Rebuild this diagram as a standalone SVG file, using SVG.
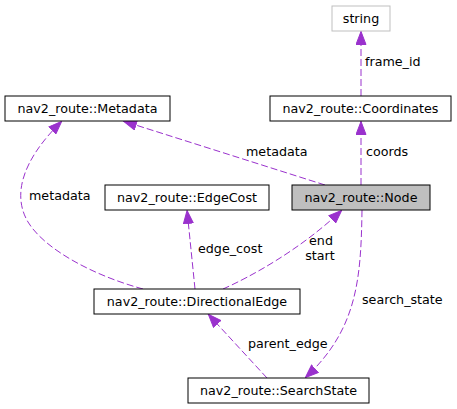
<svg xmlns="http://www.w3.org/2000/svg" width="457" height="409" viewBox="0 0 457 409">
<style>
.box{fill:#ffffff;stroke:#000000;stroke-width:1}
.t{font-family:"DejaVu Sans",sans-serif;font-size:12.7px;fill:#000000}
.c{text-anchor:middle}
.e{fill:none;stroke:#9a32cd;stroke-width:1;stroke-dasharray:7,3}
</style>
<defs>
<marker id="ah" viewBox="0 0 14 11" refX="14" refY="5.5" markerWidth="14" markerHeight="11" markerUnits="userSpaceOnUse" orient="auto">
<path d="M0.5,0.5 L13.5,5.5 L0.5,10.5 z" fill="#9a32cd" stroke="#9a32cd" stroke-width="1"/>
</marker>
</defs>
<rect width="457" height="409" fill="#ffffff"/>
<g id="connectors">
<path class="e" marker-end="url(#ah)" d="M361,96 L361,31"/>
<path class="e" marker-end="url(#ah)" d="M361,185 L361,121"/>
<path class="e" marker-end="url(#ah)" d="M325,185 L123,121"/>
<path class="e" marker-end="url(#ah)" d="M143,289 C95,276 45,250 28,222 C12,195 22,160 62,121"/>
<path class="e" marker-end="url(#ah)" d="M195,289 L187,210"/>
<path class="e" marker-end="url(#ah)" d="M223,289 C250,277 300,250 342,210"/>
<path class="e" marker-end="url(#ah)" d="M362,210 C361,280 357,330 305,378"/>
<path class="e" marker-end="url(#ah)" d="M267,378 L208,314"/>
<text class="t" x="365" y="66">frame_id</text>
<text class="t" x="366" y="156">coords</text>
<text class="t" x="246" y="156">metadata</text>
<text class="t" x="29" y="200">metadata</text>
<text class="t" x="198" y="253">edge_cost</text>
<text class="t c" x="321" y="245">end</text>
<text class="t c" x="320" y="260">start</text>
<text class="t" x="362" y="304">search_state</text>
<text class="t" x="248" y="348">parent_edge</text>
</g>
<g id="node-string">
<rect x="332" y="6" width="58" height="25" fill="#ffffff" stroke="#bfbfbf"/>
<text class="t c" x="361" y="22.5">string</text>
</g>
<g id="node-coordinates">
<rect class="box" x="270" y="96" width="181" height="25"/>
<text class="t c" x="360.5" y="112.5">nav2_route::Coordinates</text>
</g>
<g id="node-metadata">
<rect class="box" x="5" y="96" width="165" height="25"/>
<text class="t c" x="87.5" y="112.5">nav2_route::Metadata</text>
</g>
<g id="node-edgecost">
<rect class="box" x="105" y="185" width="164" height="25"/>
<text class="t c" x="187" y="201.5">nav2_route::EdgeCost</text>
</g>
<g id="node-node">
<rect x="292" y="185" width="138" height="25" fill="#bfbfbf" stroke="#000000"/>
<text class="t c" x="361" y="201.5">nav2_route::Node</text>
</g>
<g id="node-directionaledge">
<rect class="box" x="94" y="289" width="206" height="25"/>
<text class="t c" x="197" y="305.5">nav2_route::DirectionalEdge</text>
</g>
<g id="node-searchstate">
<rect class="box" x="188" y="378" width="181" height="25"/>
<text class="t c" x="278.5" y="394.5">nav2_route::SearchState</text>
</g>
</svg>
